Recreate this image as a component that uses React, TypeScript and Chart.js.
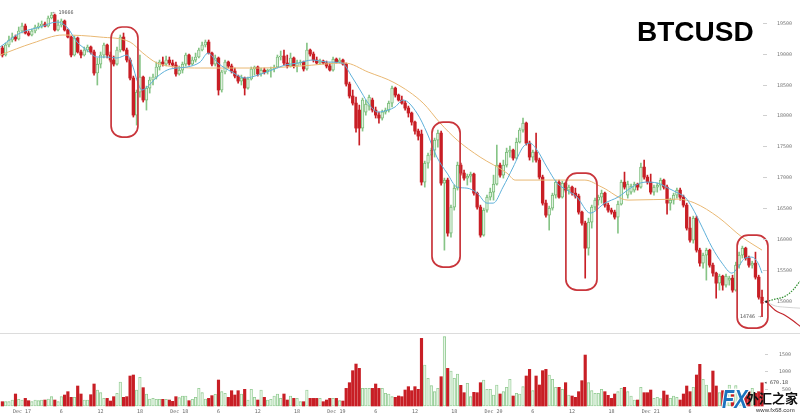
import React, { useEffect, useRef } from "react";
import { Chart, registerables } from "chart.js";
Chart.register(...registerables);

// ---- 30-minute candles, index 0 = Dec 16 21:00 ----
const OPEN = [
  19090, 18977, 19139, 19220, 19268, 19236, 19365, 19446, 19333, 19301,
  19365, 19430, 19446, 19479, 19446, 19576, 19624, 19382, 19462, 19527,
  19382, 19268, 18977, 19252, 19026, 18977, 19058, 19107, 19026, 18686,
  18831, 18977, 19139, 18977, 18896, 18831, 19058, 19268, 19058, 18896,
  18605, 18006, 18378, 18621, 18249, 18443, 18573, 18621, 18783, 18864,
  18831, 18896, 18848, 18815, 18670, 18734, 18831, 18977, 18831, 18896,
  18945, 19058, 19139, 19187, 19009, 18831, 18929, 18411, 18702, 18864,
  18799, 18718, 18637, 18556, 18605, 18443, 18589, 18751, 18783, 18670,
  18734, 18702, 18734, 18751, 18783, 18945, 18961, 18848, 18799, 18929,
  18799, 18848, 18864, 18751, 19058, 18993, 18896, 18848, 18880, 18848,
  18799, 18734, 18912, 18864, 18896, 18831, 18508, 18314, 18200, 18087,
  17796, 18055, 18152, 18249, 18087, 18006, 17958, 18055, 18087, 18200,
  18443, 18330, 18249, 18200, 18120, 18039, 17893, 17747, 17699, 16922,
  17230, 17359, 17440, 17602, 17715, 16906, 16955, 16097, 16518, 16825,
  17197, 17068, 16987, 17019, 17052, 16744, 16518, 16065, 16469, 16679,
  16760, 16890, 17197, 17035, 17197, 17408, 17440, 17311, 17569, 17764,
  17877, 17553, 17327, 17408, 17278, 17003, 16582, 16388, 16502, 16712,
  16922, 16679, 16906, 16793, 16841, 16744, 16696, 16437, 16259, 15854,
  16275, 16518, 16631, 16679, 16744, 16550, 16469, 16437, 16356, 16566,
  16922, 16712, 16760, 16793, 16890, 16841, 17165, 17003, 16922, 16760,
  16841, 16874, 16955, 16841, 16582, 16631, 16712, 16793, 16679, 16550,
  16178, 15984, 16340, 15822, 15612, 15741, 15822, 15579, 15450, 15288,
  15401, 15256, 15337, 15369, 15175, 15579, 15741, 15854, 15693, 15579,
  15612, 15385, 15061,
];
const HIGH = [
  19123, 19171, 19285, 19333, 19301, 19430, 19495, 19479, 19365, 19398,
  19462, 19495, 19527, 19511, 19608, 19666, 19640, 19543, 19560, 19543,
  19398, 19285, 19285, 19268, 19058, 19107, 19139, 19123, 19058, 18929,
  19026, 19171, 19155, 19026, 18961, 19107, 19301, 19333, 19090, 18929,
  18637, 18411, 18977, 18637, 18475, 18621, 18670, 18864, 18896, 18945,
  18961, 18945, 18896, 18864, 18799, 18864, 19009, 18993, 18945, 19009,
  19090, 19187, 19220, 19220, 19026, 18977, 18945, 18734, 18896, 18880,
  18831, 18767, 18653, 18653, 18621, 18621, 18783, 18799, 18799, 18767,
  18767, 18751, 18783, 18815, 18977, 19042, 19058, 18977, 19009, 18945,
  18896, 18896, 18880, 19171, 19074, 19026, 18945, 18912, 18896, 18880,
  18848, 18945, 18929, 18929, 18912, 18848, 18540, 18411, 18297, 18168,
  18281, 18249, 18330, 18281, 18136, 18055, 18087, 18120, 18233, 18475,
  18459, 18346, 18314, 18233, 18152, 18055, 17909, 17780, 17764, 17262,
  17391, 17472, 17634, 17764, 17747, 16987, 16987, 16550, 16874, 17246,
  17230, 17116, 17052, 17084, 17068, 16760, 16550, 16502, 16712, 16825,
  17035, 17521, 17230, 17278, 17472, 17505, 17456, 17634, 17796, 17958,
  17893, 17586, 17440, 17715, 17311, 17035, 16631, 16534, 16744, 16955,
  16955, 16938, 16922, 16874, 16857, 16825, 16728, 16453, 16291, 16340,
  16550, 16663, 16712, 16793, 16760, 16582, 16502, 16469, 16615, 16955,
  17084, 16938, 16890, 16922, 16906, 17230, 17278, 17035, 17052, 16874,
  16906, 16987, 16971, 16874, 16663, 16744, 16825, 16825, 16712, 16582,
  16356, 16372, 16372, 15854, 15773, 15854, 15838, 15612, 15466, 15434,
  15417, 15434, 15401, 15417, 15628, 15790, 15887, 15870, 15725, 15644,
  15790, 15417, 15175,
];
const LOW = [
  18945, 18961, 19107, 19187, 19204, 19220, 19333, 19317, 19285, 19285,
  19333, 19398, 19414, 19430, 19430, 19560, 19365, 19365, 19430, 19365,
  19252, 18945, 18961, 19009, 18929, 18961, 19026, 18993, 18653, 18492,
  18767, 18929, 18929, 18864, 18799, 18815, 19026, 19042, 18864, 18573,
  17974, 17844, 18297, 18217, 18087, 18362, 18492, 18589, 18734, 18799,
  18799, 18815, 18783, 18637, 18653, 18686, 18799, 18815, 18815, 18864,
  18929, 19042, 19107, 18993, 18799, 18799, 18330, 18378, 18670, 18767,
  18686, 18605, 18524, 18492, 18330, 18427, 18573, 18653, 18637, 18637,
  18670, 18670, 18621, 18702, 18767, 18896, 18815, 18767, 18783, 18767,
  18702, 18815, 18718, 18734, 18961, 18864, 18831, 18831, 18831, 18767,
  18718, 18718, 18848, 18848, 18815, 18475, 18281, 18168, 17731, 17521,
  17747, 18006, 18087, 18055, 17958, 17877, 17925, 18022, 18055, 18136,
  18297, 18233, 18184, 18087, 17974, 17844, 17699, 17602, 16874, 16841,
  17149, 17278, 17327, 17488, 16874, 15822, 16048, 16032, 16469, 16793,
  17035, 16955, 16874, 16922, 16712, 16485, 16032, 16048, 16437, 16631,
  16631, 16874, 17003, 16987, 17165, 17327, 17278, 17294, 17553, 17731,
  17521, 17278, 17246, 17246, 16971, 16550, 16356, 16146, 16469, 16663,
  16663, 16663, 16760, 16728, 16712, 16663, 16404, 16226, 15369, 15741,
  16178, 16469, 16550, 16582, 16518, 16437, 16404, 16324, 16097, 16550,
  16809, 16663, 16728, 16760, 16793, 16825, 16971, 16890, 16728, 16712,
  16760, 16793, 16809, 16404, 16469, 16566, 16663, 16631, 16518, 16146,
  15951, 15935, 15790, 15563, 15531, 15337, 15547, 15401, 15045, 15175,
  15175, 15223, 15256, 15142, 15159, 15531, 15693, 15660, 15547, 15531,
  15353, 15029, 14746,
];
const CLOSE = [
  18977, 19139, 19220, 19268, 19236, 19365, 19446, 19333, 19301, 19365,
  19430, 19446, 19479, 19446, 19576, 19624, 19382, 19462, 19527, 19382,
  19268, 18977, 19252, 19026, 18977, 19058, 19107, 19026, 18686, 18831,
  18977, 19139, 18977, 18896, 18831, 19058, 19268, 19058, 18896, 18605,
  18006, 18378, 18621, 18249, 18443, 18573, 18621, 18783, 18864, 18831,
  18896, 18848, 18815, 18670, 18734, 18831, 18977, 18831, 18896, 18945,
  19058, 19139, 19187, 19009, 18831, 18929, 18411, 18702, 18864, 18799,
  18718, 18637, 18556, 18605, 18443, 18589, 18751, 18783, 18670, 18734,
  18702, 18734, 18751, 18783, 18945, 18961, 18848, 18799, 18929, 18799,
  18848, 18864, 18751, 19058, 18993, 18896, 18848, 18880, 18848, 18799,
  18734, 18912, 18864, 18896, 18831, 18508, 18314, 18200, 17796, 17796,
  18249, 18184, 18297, 18087, 18006, 17958, 18055, 18087, 18200, 18443,
  18330, 18249, 18200, 18120, 18039, 17893, 17747, 17666, 16922, 17230,
  17359, 17440, 17602, 17715, 16906, 16955, 16097, 16518, 16825, 17197,
  17068, 16987, 17019, 17052, 16744, 16518, 16065, 16469, 16679, 16760,
  16890, 17197, 17035, 17197, 17408, 17440, 17311, 17569, 17764, 17877,
  17553, 17327, 17408, 17278, 17003, 16582, 16388, 16502, 16712, 16922,
  16679, 16906, 16793, 16841, 16744, 16696, 16437, 16259, 15854, 16275,
  16518, 16631, 16679, 16744, 16550, 16469, 16437, 16356, 16566, 16922,
  16841, 16890, 16857, 16890, 16841, 17165, 17003, 16922, 16760, 16841,
  16874, 16955, 16841, 16582, 16631, 16712, 16793, 16679, 16550, 16178,
  15984, 16340, 15822, 15612, 15741, 15822, 15579, 15450, 15288, 15401,
  15256, 15401, 15369, 15175, 15579, 15741, 15854, 15693, 15579, 15612,
  15385, 15061, 14964,
];
const VOLUME = [
  125, 125, 125, 173, 347, 193, 173, 221, 154, 125,
  173, 154, 173, 173, 202, 270, 173, 125, 270, 318,
  414, 250, 250, 578, 347, 173, 173, 327, 636, 462,
  385, 221, 221, 144, 270, 366, 693, 250, 270, 867,
  896, 462, 828, 530, 347, 202, 221, 193, 193, 193,
  193, 173, 135, 270, 241, 289, 289, 154, 193, 250,
  510, 385, 202, 221, 299, 337, 751, 414, 366, 250,
  443, 318, 443, 347, 482, 173, 482, 250, 173, 462,
  250, 173, 193, 289, 347, 221, 347, 173, 289, 221,
  221, 125, 125, 462, 221, 221, 221, 221, 125, 173,
  221, 221, 221, 154, 144, 510, 674, 1021, 1213, 1088,
  510, 510, 510, 510, 636, 510, 510, 366, 347, 270,
  250, 289, 270, 462, 559, 443, 559, 482, 1955, 1185,
  799, 587, 414, 510, 847, 2003, 1088, 1011, 799, 924,
  597, 385, 655, 270, 395, 385, 674, 751, 482, 482,
  318, 607, 347, 414, 539, 770, 289, 366, 347, 559,
  867, 1059, 443, 867, 607, 1021, 1059, 896, 770, 539,
  539, 482, 674, 318, 289, 250, 414, 732, 1473, 674,
  443, 366, 366, 482, 414, 308, 221, 347, 414, 510,
  539, 414, 289, 173, 173, 539, 385, 385, 462, 221,
  250, 212, 433, 318, 221, 289, 250, 173, 347, 578,
  414, 539, 896, 1204, 770, 607, 385, 1011, 578, 385,
  443, 414, 607, 462, 587, 318, 347, 366, 414, 510,
  366, 414, 670.18,
];

// moving averages (candle index, price)
const MA_FAST_IDX = [-0.7, 5.4, 11.5, 16.7, 19.7, 22.8, 25.8, 28.9, 31.9, 35, 38.1, 39.9, 41.1, 42.6, 44.2, 47.2, 50.3, 53.3, 56.4, 60.4, 62.8, 65.8, 70.1, 74.1, 78.1, 82.3, 86.3, 90.3, 94.6, 99.4, 103.7, 106.8, 109.8, 111.7, 114.7, 117.8, 119.9, 122.4, 126.6, 129.7, 132.7, 135.8, 138.9, 141.9, 145, 148, 149.9, 152.9, 156, 159, 161.1, 163.3, 166.3, 169.4, 172.4, 175.5, 179.5, 184, 188, 192.3, 196.3, 200.2, 203.3, 206.4, 208.5, 210.6, 213.7, 216.7, 219.8, 222.8, 224.7, 226.8, 228.9, 230.8, 232];
const MA_FAST = [19107, 19333, 19430, 19511, 19430, 19187, 19058, 18945, 18945, 18929, 18977, 18783, 18573, 18411, 18459, 18621, 18734, 18767, 18783, 18864, 19009, 18848, 18702, 18605, 18653, 18734, 18815, 18848, 18896, 18864, 18848, 18621, 18362, 18200, 18055, 18087, 18136, 18249, 18039, 17715, 17327, 17068, 16841, 16825, 16744, 16582, 16582, 16841, 17165, 17488, 17553, 17440, 17165, 16906, 16793, 16679, 16421, 16582, 16679, 16841, 16922, 16906, 16825, 16744, 16679, 16518, 16194, 15870, 15612, 15450, 15547, 15693, 15709, 15612, 15450];
const MA_SLOW_IDX = [-0.7, 9.3, 18.5, 29.8, 39, 42.9, 47.2, 53.3, 60.4, 78.7, 90.9, 104.6, 111.7, 119.9, 128.5, 133.7, 138.9, 145.9, 154.1, 156.6, 170.3, 177.9, 183.1, 191.1, 206.4, 211.5, 218.6, 225.9, 232];
const MA_SLOW = [18977, 19171, 19301, 19268, 19187, 19009, 18848, 18783, 18767, 18767, 18799, 18848, 18702, 18524, 18200, 17877, 17602, 17327, 17068, 16955, 16955, 16955, 16841, 16631, 16647, 16582, 16356, 16032, 15822];

// forecast lines after the last candle
const PROJ_IDX = [233.3, 236, 239, 241.5, 243.6];
const PROJ_UP = [14989, 15030, 15075, 15180, 15320];
const PROJ_DOWN = [14989, 14851, 14770, 14680, 14592];
const PROJ_MID = [14989, 14920, 14900, 14890, 14884];

const PRICE_TICKS = [15000, 15500, 16000, 16500, 17000, 17500, 18000, 18500, 19000, 19500];
const VOLUME_TICKS = [500, 1000, 1500];
const TIME_LABEL_IDX = [6, 18, 30, 42, 54, 66, 78, 90, 102, 114, 126, 138, 150, 162, 174, 186, 198, 210];
const TIME_LABELS = ["Dec 17", "6", "12", "18", "Dec 18", "6", "12", "18", "Dec 19", "6", "12", "18", "Dec 20", "6", "12", "18", "Dec 21", "6"];

// highlighted zones (candle index range, price range)
const BOX_FROM = [33.2, 131.2, 172.1, 224.4];
const BOX_TO = [41.4, 139.8, 181.6, 233.8];
const BOX_TOP = [19430, 17893, 17068, 16065];
const BOX_BOTTOM = [17650, 15547, 15175, 14560];

const HIGH_MARK_IDX = 15;
const LOW_MARK_IDX = 232;

const X_MIN = -0.73;
const X_MAX = 243.6;
const RED = "#c81e25";
const GREEN_LINE = "#72b872";
const GREEN_FILL = "#dff1df";
const VOL_GREEN_LINE = "#8cc88c";
const VOL_GREEN_FILL = "#e6f5e6";
const TICK_FONT = '5px "DejaVu Sans Mono"';

const up = (i: number) => CLOSE[i] >= OPEN[i];

export default function App() {
  const priceRef = useRef<HTMLCanvasElement>(null);
  const volRef = useRef<HTMLCanvasElement>(null);

  useEffect(() => {
    const xScale = { type: "linear" as const, min: X_MIN, max: X_MAX, display: false, offset: false };

    const pricePlugin = {
      id: "priceDecor",
      afterDatasetsDraw(chart: any) {
        const { ctx, scales } = chart;
        const x = scales.x, y = scales.y;
        ctx.save();
        // highlight boxes
        ctx.strokeStyle = "#c9353b";
        ctx.lineWidth = 1.7;
        BOX_FROM.forEach((f, k) => {
          const x1 = x.getPixelForValue(f), x2 = x.getPixelForValue(BOX_TO[k]);
          const y1 = y.getPixelForValue(BOX_TOP[k]), y2 = y.getPixelForValue(BOX_BOTTOM[k]);
          ctx.beginPath();
          ctx.roundRect(x1, y1, x2 - x1, y2 - y1, 11);
          ctx.stroke();
        });
        // price ticks
        ctx.font = TICK_FONT;
        ctx.textAlign = "right";
        ctx.textBaseline = "middle";
        PRICE_TICKS.forEach((v) => {
          const py = Math.round(y.getPixelForValue(v)) + 0.5;
          ctx.strokeStyle = "#cfcfcf";
          ctx.lineWidth = 1;
          ctx.beginPath();
          ctx.moveTo(763, py);
          ctx.lineTo(767, py);
          ctx.stroke();
          ctx.fillStyle = "#777";
          ctx.fillText(String(v), 792, py);
        });
        // high / low marks
        ctx.fillStyle = "#555";
        ctx.textAlign = "left";
        ctx.fillText("\u2190 " + HIGH[HIGH_MARK_IDX], x.getPixelForValue(HIGH_MARK_IDX) + 1, y.getPixelForValue(HIGH[HIGH_MARK_IDX]));
        ctx.textAlign = "right";
        ctx.fillText(LOW[LOW_MARK_IDX] + " \u2192", x.getPixelForValue(LOW_MARK_IDX) - 1, y.getPixelForValue(LOW[LOW_MARK_IDX]));
        // last close dot
        ctx.fillStyle = "#222";
        ctx.beginPath();
        ctx.arc(x.getPixelForValue(PROJ_IDX[0]), y.getPixelForValue(PROJ_UP[0]), 1.2, 0, Math.PI * 2);
        ctx.fill();
        // title
        ctx.fillStyle = "#000";
        ctx.textAlign = "left";
        ctx.textBaseline = "alphabetic";
        ctx.font = 'bold 28px "Liberation Sans", Arial, sans-serif';
        ctx.fillText("BTCUSD", 637, 41);
        ctx.restore();
      },
    };

    const priceChart = new Chart(priceRef.current!, {
      type: "bar",
      data: {
        datasets: [
          {
            type: "line",
            data: MA_FAST_IDX.map((v, k) => ({ x: v, y: MA_FAST[k] })),
            borderColor: "#5eb0d9",
            borderWidth: 1,
            pointRadius: 0,
            cubicInterpolationMode: "monotone",
            order: 0,
          } as any,
          {
            type: "line",
            data: MA_SLOW_IDX.map((v, k) => ({ x: v, y: MA_SLOW[k] })),
            borderColor: "#e9b873",
            borderWidth: 1,
            pointRadius: 0,
            cubicInterpolationMode: "monotone",
            order: 0,
          } as any,
          {
            type: "line",
            data: PROJ_IDX.map((v, k) => ({ x: v, y: PROJ_MID[k] })),
            borderColor: "#d4d4d4",
            borderWidth: 1,
            pointRadius: 0,
            cubicInterpolationMode: "monotone",
            order: 0,
          } as any,
          {
            type: "line",
            data: PROJ_IDX.map((v, k) => ({ x: v, y: PROJ_UP[k] })),
            borderColor: "#2f8f2f",
            borderWidth: 1.2,
            borderDash: [1.5, 1.2],
            pointRadius: 0,
            cubicInterpolationMode: "monotone",
            order: 0,
          } as any,
          {
            type: "line",
            data: PROJ_IDX.map((v, k) => ({ x: v, y: PROJ_DOWN[k] })),
            borderColor: "#c2262c",
            borderWidth: 1.2,
            pointRadius: 0,
            cubicInterpolationMode: "monotone",
            order: 0,
          } as any,
          {
            type: "bar",
            data: LOW.map((l, i) => ({ x: i, y: [l, HIGH[i]] })),
            barThickness: 1,
            grouped: false,
            borderWidth: 0,
            borderSkipped: false,
            backgroundColor: (c: any) => (up(c.dataIndex) ? "#86c486" : RED),
            order: 2,
          } as any,
          {
            type: "bar",
            data: OPEN.map((o, i) => ({ x: i, y: [o, CLOSE[i]] })),
            barThickness: 2.7,
            grouped: false,
            minBarLength: 1,
            borderSkipped: false,
            borderWidth: (c: any) => (up(c.dataIndex) ? 0.9 : 0),
            borderColor: (c: any) => (up(c.dataIndex) ? GREEN_LINE : RED),
            backgroundColor: (c: any) => (up(c.dataIndex) ? GREEN_FILL : RED),
            order: 1,
          } as any,
        ],
      },
      options: {
        responsive: false,
        maintainAspectRatio: false,
        animation: false,
        layout: { padding: 0 },
        plugins: { legend: { display: false }, tooltip: { enabled: false } },
        scales: {
          x: xScale,
          y: { min: 14482, max: 19867, display: false },
        },
      } as any,
      plugins: [pricePlugin],
    });

    const volPlugin = {
      id: "volDecor",
      beforeDatasetsDraw(chart: any) {
        const { ctx } = chart;
        ctx.save();
        ctx.strokeStyle = "#dcdcdc";
        ctx.lineWidth = 1;
        ctx.beginPath();
        ctx.moveTo(0, 0.5);
        ctx.lineTo(800, 0.5);
        ctx.stroke();
        ctx.restore();
      },
      afterDatasetsDraw(chart: any) {
        const { ctx, scales } = chart;
        const x = scales.x, y = scales.y;
        ctx.save();
        ctx.font = TICK_FONT;
        ctx.textBaseline = "middle";
        ctx.textAlign = "right";
        VOLUME_TICKS.forEach((v) => {
          const py = Math.round(y.getPixelForValue(v)) + 0.5;
          ctx.strokeStyle = "#cfcfcf";
          ctx.beginPath();
          ctx.moveTo(765, py);
          ctx.lineTo(768, py);
          ctx.stroke();
          ctx.fillStyle = "#777";
          ctx.fillText(String(v), 791, py);
        });
        // time labels
        ctx.textAlign = "center";
        ctx.fillStyle = "#666";
        TIME_LABEL_IDX.forEach((v, k) => {
          ctx.fillText(TIME_LABELS[k], x.getPixelForValue(v), 79);
        });
        // last volume value
        const last = VOLUME.length - 1;
        ctx.textAlign = "left";
        ctx.fillStyle = "#444";
        ctx.fillText("\u25C2 " + VOLUME[last].toFixed(2), x.getPixelForValue(last) + 2, y.getPixelForValue(VOLUME[last]));
        // watermark logo
        ctx.save();
        ctx.translate(722, 75);
        ctx.scale(1, 1.3);
        ctx.font = 'italic bold 20px "Liberation Sans", Arial, sans-serif';
        ctx.textAlign = "left";
        ctx.textBaseline = "alphabetic";
        ctx.lineWidth = 2;
        ctx.strokeStyle = "#ffffff";
        ctx.strokeText("FX", 0, 0);
        ctx.fillStyle = "#1c74bd";
        ctx.fillText("FX", 0, 0);
        ctx.restore();
        ctx.font = 'bold 13px "Noto Sans CJK SC", sans-serif';
        ctx.textBaseline = "middle";
        ctx.fillStyle = "#111";
        ctx.fillText("外汇之家", 746, 65);
        ctx.font = '6px "Liberation Sans", Arial, sans-serif';
        ctx.fillStyle = "#333";
        ctx.fillText("www.fx68.com", 756, 77);
        ctx.restore();
      },
    };

    const volChart = new Chart(volRef.current!, {
      type: "bar",
      data: {
        datasets: [
          {
            data: VOLUME.map((v, i) => ({ x: i, y: v })),
            barThickness: 2.5,
            grouped: false,
            borderSkipped: false,
            borderWidth: (c: any) => (up(c.dataIndex) ? 0.8 : 0),
            borderColor: (c: any) => (up(c.dataIndex) ? VOL_GREEN_LINE : RED),
            backgroundColor: (c: any) => (up(c.dataIndex) ? VOL_GREEN_FILL : RED),
          } as any,
        ],
      },
      options: {
        responsive: false,
        maintainAspectRatio: false,
        animation: false,
        layout: { padding: 0 },
        plugins: { legend: { display: false }, tooltip: { enabled: false } },
        scales: {
          x: xScale,
          y: { min: -260, max: 2110, display: false },
        },
      } as any,
      plugins: [volPlugin],
    });

    return () => {
      priceChart.destroy();
      volChart.destroy();
    };
  }, []);

  return (
    <div style={{ width: 800, height: 415, background: "#fff", overflow: "hidden" }}>
      <style>{`body{margin:0;background:#fff}`}</style>
      <canvas ref={priceRef} width={800} height={333} style={{ display: "block" }} />
      <canvas ref={volRef} width={800} height={82} style={{ display: "block" }} />
    </div>
  );
}
